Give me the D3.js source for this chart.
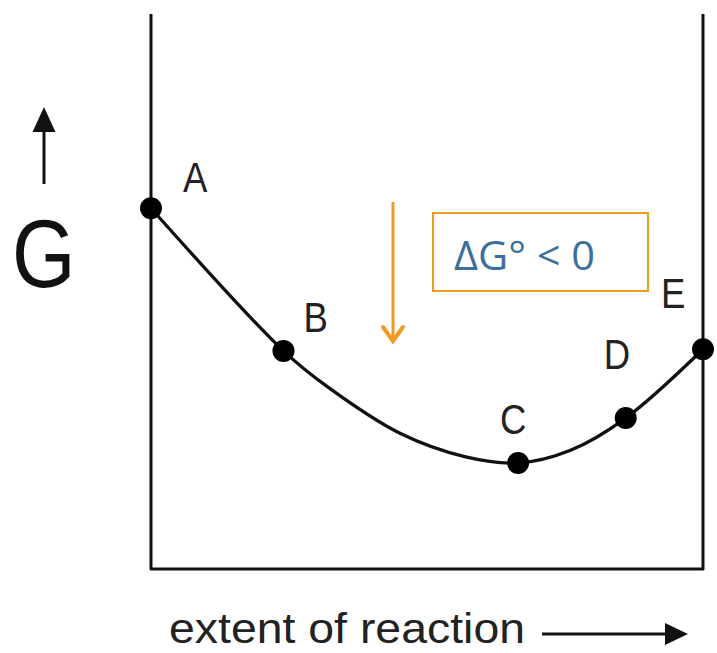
<!DOCTYPE html>
<html>
<head>
<meta charset="utf-8">
<script src="https://cdn.jsdelivr.net/npm/d3@7"></script>
<style>
  html, body { margin: 0; padding: 0; background: #fff; }
  svg { display: block; }
</style>
</head>
<body>
<script>
// Gibbs free energy along the extent of reaction
const extent = [0, 0.24, 0.32, 0.45, 0.57, 0.665, 0.76, 0.86, 1.0];
const gibbs  = [65, 39.3, 32.8, 24.5, 20.2, 19.1, 21.4, 27.2, 39.6];

// Marked states on the curve
const stateNames  = ["A", "B", "C", "D", "E"];
const stateExtent = [0, 0.24, 0.665, 0.86, 1.0];
const stateGibbs  = [65, 39.3, 19.1, 27.2, 39.6];

const axisLabelY = "G";
const axisLabelX = "extent of reaction";
const deltaLabel = "ΔG° < 0";

const W = 717, H = 653;
const svg = d3.select("body").append("svg").attr("width", W).attr("height", H);

const x = d3.scaleLinear().domain([0, 1]).range([151, 703]);
const y = d3.scaleLinear().domain([0, 100]).range([569, 14]);

const ink = "#111";
const orange = "#EE9B22";
const blue = "#3C6F9B";

// Frame: two walls and the floor
const frame = d3.line()([[x(0), y(100)], [x(0), y(0)], [x(1), y(0)], [x(1), y(100)]]);
svg.append("path").attr("d", frame)
  .attr("fill", "none").attr("stroke", ink).attr("stroke-width", 3)
  .attr("stroke-linejoin", "round").attr("stroke-linecap", "butt");

// Free-energy curve
const curve = d3.line()
  .x((d, i) => x(extent[i]))
  .y((d, i) => y(gibbs[i]))
  .curve(d3.curveCatmullRom.alpha(0.5));
svg.append("path").attr("d", curve(extent))
  .attr("fill", "none").attr("stroke", ink).attr("stroke-width", 3.3);

// State markers
svg.selectAll("circle.state").data(stateNames).join("circle")
  .attr("class", "state")
  .attr("cx", (d, i) => x(stateExtent[i]))
  .attr("cy", (d, i) => y(stateGibbs[i]))
  .attr("r", 11).attr("fill", "#000");

// State labels, offset from each marker
const labelOffset = {A: [32, -16], B: [20, -19], C: [-18, -29], D: [-22, -49], E: [-42, -41]};
const sx = 0.85;
svg.selectAll("text.state").data(stateNames).join("text")
  .attr("class", "state")
  .attr("transform", (d, i) => {
    const px = x(stateExtent[i]) + labelOffset[d][0];
    const py = y(stateGibbs[i]) + labelOffset[d][1];
    return `translate(${px},${py}) scale(${sx},1)`;
  })
  .attr("font-family", "Liberation Sans, Arial, sans-serif")
  .attr("font-size", 43).attr("fill", "#222")
  .text(d => d);

// Vertical axis label with upward arrow
svg.append("text")
  .attr("transform", `translate(12,287) scale(${sx},1)`)
  .attr("font-family", "Liberation Sans, Arial, sans-serif")
  .attr("font-size", 96).attr("fill", "#111")
  .text(axisLabelY);
svg.append("line").attr("x1", 44).attr("x2", 44).attr("y1", 184).attr("y2", 128)
  .attr("stroke", ink).attr("stroke-width", 3);
svg.append("path").attr("d", "M44,107 L55.5,132 L32.5,132 Z").attr("fill", ink);

// Horizontal axis label with rightward arrow
svg.append("text")
  .attr("x", 169).attr("y", 643)
  .attr("font-family", "Liberation Sans, Arial, sans-serif")
  .attr("font-size", 42).attr("fill", "#222")
  .attr("textLength", 356).attr("lengthAdjust", "spacingAndGlyphs")
  .text(axisLabelX);
svg.append("line").attr("x1", 542).attr("x2", 668).attr("y1", 634).attr("y2", 634)
  .attr("stroke", ink).attr("stroke-width", 3);
svg.append("path").attr("d", "M688,634 L665,623 L665,645 Z").attr("fill", ink);

// Downward orange arrow
svg.append("line").attr("x1", 393).attr("x2", 393).attr("y1", 202).attr("y2", 340)
  .attr("stroke", orange).attr("stroke-width", 3);
svg.append("path").attr("d", "M383,327 L393,341 L403,327")
  .attr("fill", "none").attr("stroke", orange).attr("stroke-width", 4)
  .attr("stroke-linecap", "round").attr("stroke-linejoin", "miter");

// ΔG° annotation box
svg.append("rect").attr("x", 433).attr("y", 213).attr("width", 215).attr("height", 78)
  .attr("fill", "none").attr("stroke", orange).attr("stroke-width", 2);
svg.append("text")
  .attr("x", 454).attr("y", 270)
  .attr("font-family", "Open Sans, sans-serif")
  .attr("font-size", 41).attr("fill", blue)
  .attr("textLength", 141).attr("lengthAdjust", "spacingAndGlyphs")
  .text(deltaLabel);
</script>
</body>
</html>
